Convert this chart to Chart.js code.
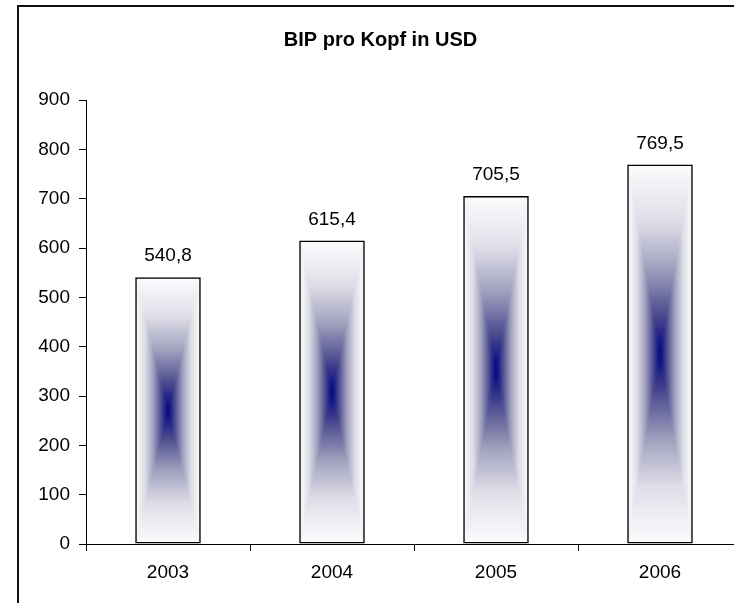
<!DOCTYPE html>
<html>
<head>
<meta charset="utf-8">
<script src="https://cdn.jsdelivr.net/npm/chart.js@4/dist/chart.umd.min.js"></script>
<style>
    html, body { margin: 0; padding: 0; background: #fff; overflow: hidden; }
    #frame { position: absolute; left: 17px; top: 5px; border: 2px solid #111; width: 740px; height: 600px; }
    canvas { display: block; }
</style>
</head>
<body>
<div id="frame"><canvas id="gdp-chart" width="740" height="600"></canvas></div>
<script>
const years = ['2003', '2004', '2005', '2006'];
const gdpPerHead = [540.8, 615.4, 705.5, 769.5];
const yTicks = [0, 100, 200, 300, 400, 500, 600, 700, 800, 900];

const FONT = "'Liberation Sans', Arial, sans-serif";
// colour ramp from bar centre (0) to bar edge (1)
const RAMP = [
    [0, 'rgb(0,0,128)'],
    [0.22, 'rgb(80,80,145)'],
    [0.45, 'rgb(160,160,190)'],
    [0.7, 'rgb(222,222,232)'],
    [1, 'rgb(252,252,254)'],
];

const fmt = (v) => v.toFixed(1).replace('.', ',');

// rectangular "from centre" gradient: four triangles, each fading out to its edge
const centreGradient = {
    id: 'centreGradient',
    beforeDatasetsDraw(chart) {
        const ctx = chart.ctx;
        chart.getDatasetMeta(0).data.forEach((bar) => {
            const { x, y, base, width } = bar.getProps(['x', 'y', 'base', 'width'], true);
            const l = x - width / 2, r = x + width / 2;
            const t = Math.min(y, base), b = Math.max(y, base);
            const cx = x, cy = (t + b) / 2;
            const parts = [
                [[l, t], [r, t], [cx, t]],
                [[l, b], [r, b], [cx, b]],
                [[l, t], [l, b], [l, cy]],
                [[r, t], [r, b], [r, cy]],
            ];
            ctx.save();
            ctx.beginPath();
            ctx.rect(l, t, width, b - t);
            ctx.clip();
            parts.forEach(([p1, p2, end]) => {
                const g = ctx.createLinearGradient(cx, cy, end[0], end[1]);
                RAMP.forEach(([pos, col]) => g.addColorStop(pos, col));
                ctx.fillStyle = g;
                ctx.beginPath();
                ctx.moveTo(cx, cy);
                ctx.lineTo(p1[0], p1[1]);
                ctx.lineTo(p2[0], p2[1]);
                ctx.closePath();
                ctx.fill();
                ctx.strokeStyle = g;
                ctx.lineWidth = 0.6;
                ctx.stroke();
            });
            ctx.restore();
        });
    },
};

const valueLabels = {
    id: 'valueLabels',
    afterDatasetsDraw(chart) {
        const ctx = chart.ctx;
        ctx.save();
        ctx.font = '19px ' + FONT;
        ctx.fillStyle = '#000';
        ctx.textAlign = 'center';
        ctx.textBaseline = 'middle';
        chart.getDatasetMeta(0).data.forEach((bar, i) => {
            ctx.fillText(fmt(gdpPerHead[i]), bar.x, bar.y - 21);
        });
        ctx.restore();
    },
};

const buildChart = () => {
    const ctx = document.getElementById('gdp-chart');
    if (!ctx || typeof Chart === 'undefined') return;
    new Chart(ctx, {
        type: 'bar',
        data: {
            labels: years,
            datasets: [{
                label: 'BIP pro Kopf in USD',
                data: gdpPerHead,
                backgroundColor: 'rgba(0,0,0,0)',
                borderColor: '#000',
                borderWidth: 1.5,
                borderSkipped: false,
                categoryPercentage: 1,
                barPercentage: 0.4,
            }],
        },
        options: {
            responsive: false,
            animation: false,
            layout: { padding: { left: 0, right: 17, top: 0, bottom: 23 } },
            plugins: {
                legend: { display: false },
                tooltip: { enabled: false },
                title: {
                    display: true,
                    text: 'BIP pro Kopf in USD',
                    color: '#000',
                    font: { family: FONT, size: 20, weight: 'bold' },
                    padding: { top: 21, bottom: 48 },
                },
            },
            scales: {
                x: {
                    grid: { drawOnChartArea: false, drawTicks: true, tickLength: 7, color: '#000', offset: true },
                    border: { color: '#000', width: 1 },
                    ticks: { color: '#000', font: { family: FONT, size: 19 }, padding: 10, maxRotation: 0 },
                    afterFit: (s) => { s.height = 40; },
                },
                y: {
                    min: yTicks[0],
                    max: yTicks[yTicks.length - 1],
                    afterBuildTicks: (s) => { s.ticks = yTicks.map((v) => ({ value: v })); },
                    grid: { drawOnChartArea: false, drawTicks: true, tickLength: 7, color: '#000' },
                    border: { color: '#000', width: 1 },
                    ticks: { color: '#000', font: { family: FONT, size: 19 }, padding: 9 },
                    afterFit: (s) => { s.width = 67; },
                },
            },
        },
        plugins: [centreGradient, valueLabels],
    });
};

buildChart();
</script>
</body>
</html>
